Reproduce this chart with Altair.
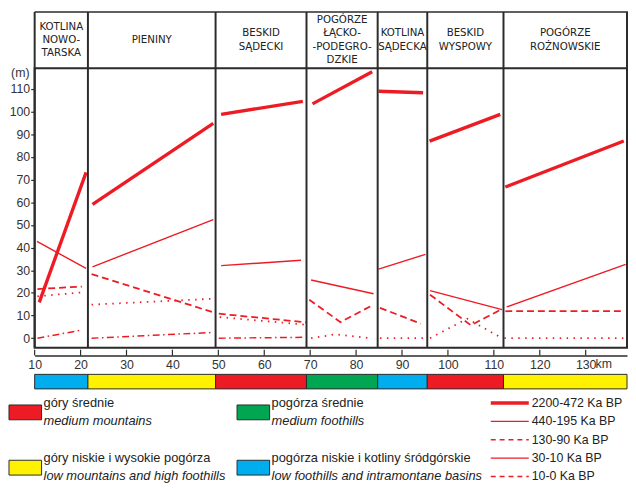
import altair as alt
import pandas as pd

FONT = "Liberation Sans"
HFONT = "'DejaVu Sans Condensed', 'Liberation Sans', sans-serif"
INK = "#2b2b2b"
RED = "#ED1C24"

# ---------------- data ----------------
REGION_NAMES = ["KOTLINA\nNOWO-\nTARSKA", "PIENINY", "BESKID\nSĄDECKI",
                "POGÓRZE\nŁĄCKO-\n-PODEGRO-\nDZKIE", "KOTLINA\nSĄDECKA",
                "BESKID\nWYSPOWY", "POGÓRZE\nROŻNOWSKIE"]
REGION_BOUNDS = [10, 21.6, 49.4, 69.2, 84.7, 95.5, 112.1, 139]
REGION_TYPE = ["basin", "low", "medium", "foothill", "basin", "medium", "low"]

TYPE_DOMAIN = ["medium", "foothill", "low", "basin"]
TYPE_COLORS = ["#ED1C24", "#00A651", "#FFF200", "#00AEEF"]
TYPE_PL = ["góry średnie", "pogórza średnie", "góry niskie i wysokie pogórza",
           "pogórza niskie i kotliny śródgórskie"]
TYPE_EN = ["medium mountains", "medium foothills", "low mountains and high foothills",
           "low foothills and intramontane basins"]

X_TICKS = [10, 20, 30, 40, 50, 60, 70, 80, 90, 100, 110, 120, 130]
Y_TICKS = [0, 10, 20, 30, 40, 50, 60, 70, 80, 90, 100, 110]

PERIODS = ["2200-472 Ka BP", "440-195 Ka BP", "130-90 Ka BP", "30-10 Ka BP", "10-0 Ka BP"]

P2200_KM = [[11.0, 21.2], [22.6, 48.9], [50.6, 68.4], [70.5, 83.5], [84.9, 94.6], [96.0, 111.4], [112.5, 138.3]]
P2200_M = [[15.8, 73.2], [59.1, 94.8], [98.8, 104.5], [103.4, 117.6], [109.0, 108.3], [87.0, 98.8], [66.7, 87.0]]

P440_KM = [[10.5, 21.2], [22.6, 48.9], [50.6, 68.0], [70.2, 83.8], [84.9, 95.1], [96.1, 111.8], [112.8, 138.7]]
P440_M = [[42.7, 30.8], [31.5, 52.3], [32.0, 34.4], [25.7, 19.6], [30.5, 37.0], [21.0, 12.6], [13.8, 32.6]]

P130_KM = [[10.6, 20.3], [22.4, 48.6], [50.1, 69.1], [69.8, 76.6, 83.8], [85.2, 94.1], [96.1, 105.0, 111.8], [112.5, 138.3]]
P130_M = [[21.7, 22.8], [28.3, 11.6], [10.8, 7.0], [17.0, 7.1, 14.8], [13.4, 6.4], [19.2, 5.7, 12.9], [11.9, 11.9]]

P30_KM = [[10.6, 20.3], [22.4, 48.6], [50.3, 68.8]]
P30_M = [[18.5, 20.2], [14.8, 17.4], [9.3, 6.0]]

P10_KM = [[10.6, 20.3], [22.4, 48.6], [50.1, 68.8], [70.2, 75.5, 83.3], [85.2, 95.1], [96.1, 104.2, 111.8], [112.3, 138.7]]
P10_M = [[0.0, 3.6], [0.0, 2.5], [0.0, 0.4], [0.0, 1.7, 0.0], [0.0, 0.0], [0.0, 8.6, 0.0], [0.0, 0.0]]
P10_STYLE = ["dashdot", "dashdot", "dashdot", "dotted", "dotted", "dotted", "dotted"]

# ---------------- styles ----------------
STYLES = {
    "thick": dict(strokeWidth=3.4),
    "thin": dict(strokeWidth=1.4),
    "dashed": dict(strokeWidth=1.8, strokeDash=[7, 4]),
    "dotted": dict(strokeWidth=1.8, strokeDash=[1.5, 5.5]),
    "dashdot": dict(strokeWidth=1.5, strokeDash=[7, 3.5, 1.5, 3.5]),
}
LEGEND_STYLES = [dict(strokeWidth=3.4), dict(strokeWidth=1.4),
                 dict(strokeWidth=1.4, strokeDash=[5, 4]), dict(strokeWidth=1.4),
                 dict(strokeWidth=1.4, strokeDash=[5, 4])]

# ---------------- tables ----------------
rows = []
def add(period, kms, ms, styles):
    for j, (ks, vs) in enumerate(zip(kms, ms)):
        for i, (k, v) in enumerate(zip(ks, vs)):
            rows.append(dict(period=period, style=styles[j], seg=f"{period}-{j}",
                             i=i, km=k, m=v))

add(PERIODS[0], P2200_KM, P2200_M, ["thick"] * len(P2200_KM))
add(PERIODS[1], P440_KM, P440_M, ["thin"] * len(P440_KM))
add(PERIODS[2], P130_KM, P130_M, ["dashed"] * len(P130_KM))
add(PERIODS[3], P30_KM, P30_M, ["dotted"] * len(P30_KM))
add(PERIODS[4], P10_KM, P10_M, P10_STYLE)
lines_df = pd.DataFrame(rows)

regions_df = pd.DataFrame({
    "name": REGION_NAMES,
    "start": REGION_BOUNDS[:-1],
    "end": REGION_BOUNDS[1:],
    "type": REGION_TYPE,
})
regions_df["mid"] = (regions_df["start"] + regions_df["end"]) / 2
regions_df["nlines"] = regions_df["name"].str.count("\n") + 1
bounds_df = pd.DataFrame({"km": REGION_BOUNDS})
ticks_df = pd.DataFrame({"km": X_TICKS})

X_SCALE = alt.Scale(domain=[10, 139], nice=False, zero=False)
Y_SCALE = alt.Scale(domain=[-4.2, 119.1], nice=False, zero=False)

x_axis = alt.Axis(values=X_TICKS, offset=8, domain=True, domainColor=INK, domainWidth=1.5,
                  ticks=False, labelFont=FONT, labelFontSize=12.5, labelColor="#333",
                  labelPadding=3, title=None, grid=False, labelFlush=False)
y_axis = alt.Axis(values=Y_TICKS, domain=False, ticks=True, tickSize=4, tickColor=INK,
                  tickWidth=1.2, labelFont=FONT, labelFontSize=12.5, labelColor="#333",
                  labelPadding=1, title="(m)", titleAngle=0, titleX=-15, titleY=4,
                  titleAlign="center", titleBaseline="middle", titleFont=FONT,
                  titleFontSize=12.5, titleFontWeight="normal", titleColor="#333", grid=False)

layers = []

# data lines (first, so that their axes are the ones kept)
for st, props in STYLES.items():
    sub = lines_df[lines_df["style"] == st]
    if sub.empty:
        continue
    layers.append(
        alt.Chart(sub).mark_line(color=RED, strokeCap="butt", **props).encode(
            x=alt.X("km:Q", scale=X_SCALE, axis=x_axis),
            y=alt.Y("m:Q", scale=Y_SCALE, axis=y_axis),
            detail="seg:N", order="i:Q",
        )
    )

# colour bar under the x axis
layers.append(
    alt.Chart(regions_df).mark_rect(stroke=INK, strokeWidth=1).encode(
        x=alt.X("start:Q", scale=X_SCALE, axis=x_axis), x2="end:Q",
        y=alt.value(310), y2=alt.value(324.7),
        fill=alt.Fill("type:N", scale=alt.Scale(domain=TYPE_DOMAIN, range=TYPE_COLORS), legend=None),
    )
)

# header frame
layers.append(
    alt.Chart(bounds_df).mark_rule(color=INK, strokeWidth=2).encode(
        x=alt.X("km:Q", scale=X_SCALE, axis=x_axis), y=alt.value(-57), y2=alt.value(283),
    )
)
layers.append(
    alt.Chart(bounds_df.head(1)).mark_rule(color=INK, strokeWidth=1.6).encode(
        x=alt.value(0), x2=alt.value(601), y=alt.value(-57),
    )
)
LH = 13.5
for n in sorted(regions_df["nlines"].unique()):
    sub = regions_df[regions_df["nlines"] == n]
    layers.append(
        alt.Chart(sub).mark_text(lineBreak="\n", font=HFONT, fontSize=11.5, lineHeight=LH,
                                 color="#222", baseline="middle", align="center").encode(
            x=alt.X("mid:Q", scale=X_SCALE, axis=x_axis),
            y=alt.value(-28.5 - (n - 1) * LH / 2), text="name:N",
        )
    )

# x ticks pointing up
layers.append(
    alt.Chart(ticks_df).mark_rule(color=INK, strokeWidth=1.2).encode(
        x=alt.X("km:Q", scale=X_SCALE, axis=x_axis), y=alt.value(285), y2=alt.value(291),
    )
)
layers.append(
    alt.Chart(ticks_df.tail(1)).mark_text(font=FONT, fontSize=12.5, color="#333", align="left",
                                          baseline="top", dx=10).encode(
        x=alt.X("km:Q", scale=X_SCALE, axis=x_axis), y=alt.value(294), text=alt.value("km"),
    )
)

# legend: region types
one = pd.DataFrame({"a": [0]})
BOX_X = [-26, 205, -26, 205]
BOX_Y = [341, 341, 397, 397]
for k in range(4):
    bx, by = BOX_X[k], BOX_Y[k]
    layers.append(alt.Chart(one).mark_rect(fill=TYPE_COLORS[k], stroke=INK, strokeWidth=1).encode(
        x=alt.value(bx), x2=alt.value(bx + 33), y=alt.value(by), y2=alt.value(by + 15)))
    layers.append(alt.Chart(one).mark_text(font=FONT, fontSize=13, color="#222", align="left",
                                           baseline="middle").encode(
        x=alt.value(bx + 35), y=alt.value(by - 2), text=alt.value(TYPE_PL[k])))
    layers.append(alt.Chart(one).mark_text(font=FONT, fontSize=13, color="#222", align="left",
                                           baseline="middle", fontStyle="italic").encode(
        x=alt.value(bx + 35), y=alt.value(by + 16), text=alt.value(TYPE_EN[k])))

# legend: periods
for k, name in enumerate(PERIODS):
    ly = 339 + k * 18.6
    layers.append(alt.Chart(one).mark_rule(color=RED, **LEGEND_STYLES[k]).encode(
        x=alt.value(462), x2=alt.value(500.5), y=alt.value(ly)))
    layers.append(alt.Chart(one).mark_text(font=FONT, fontSize=12.5, color="#222", align="left",
                                           baseline="middle").encode(
        x=alt.value(503.5), y=alt.value(ly), text=alt.value(name)))

chart = alt.layer(*layers).properties(
    width=600, height=283,
    padding={"left": 27, "top": 58, "right": 1, "bottom": 139},
    autosize=alt.AutoSizeParams(type="none"),
).configure_view(stroke=INK, strokeWidth=2)

chart.save("out.html", embed_options={"renderer": "svg", "actions": False})
